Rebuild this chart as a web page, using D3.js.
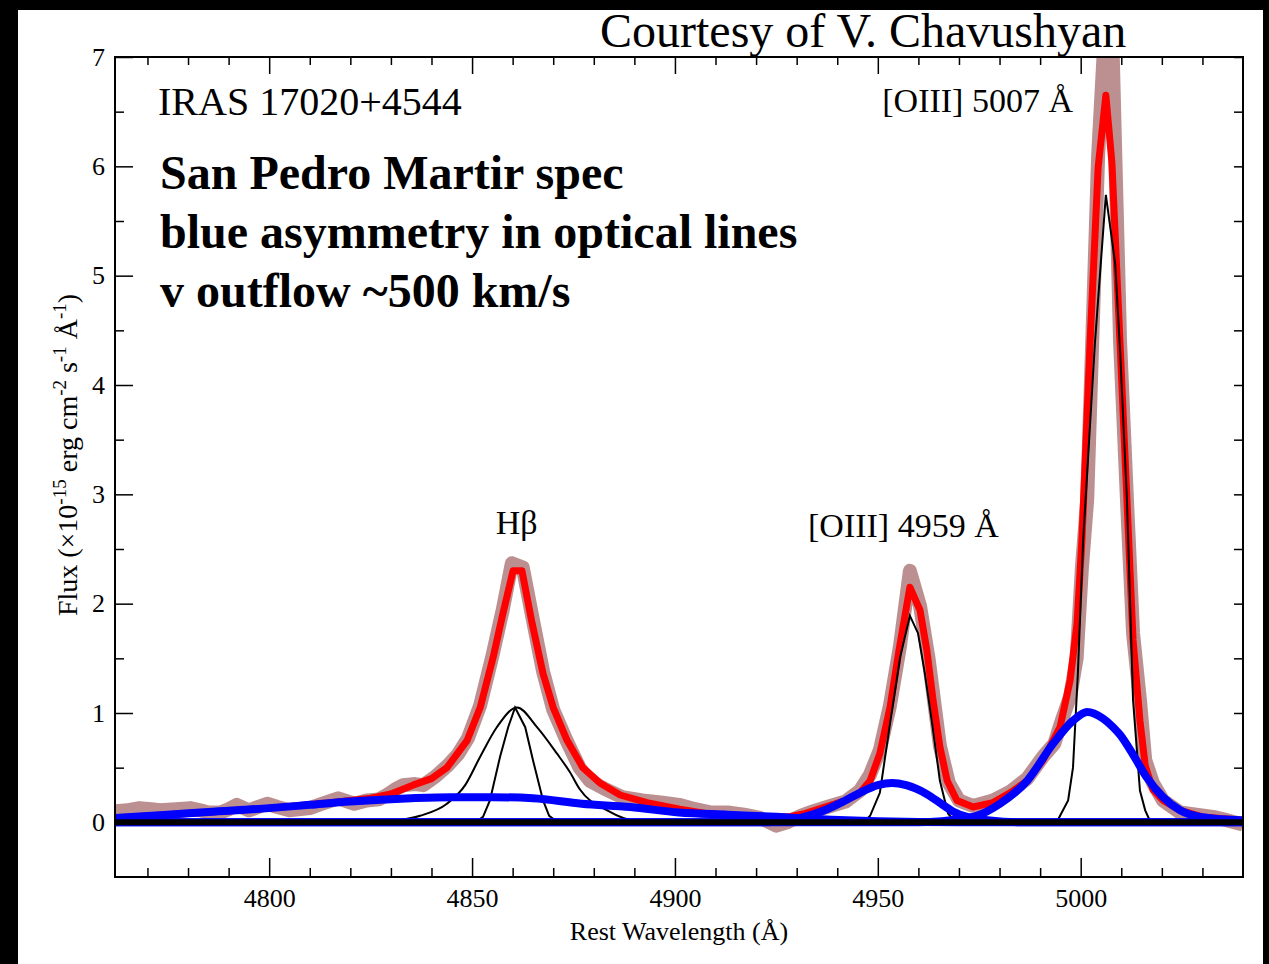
<!DOCTYPE html>
<html>
<head>
<meta charset="utf-8">
<script src="https://cdn.jsdelivr.net/npm/d3@7"></script>
<style>
body { margin: 0; background: #000; }
svg { display: block; }
text { font-family: "Liberation Serif", "Times New Roman", serif; fill: #000; }
</style>
</head>
<body>
<svg id="chart" width="1269" height="964"></svg>
<script>
// wavelength (A), flux (1e-15 erg cm-2 s-1 A-1)
var obsSpec = [[4762,0.10],[4765,0.11],[4768,0.13],[4771,0.12],[4773,0.11],[4777,0.12],[4780.5,0.13],[4783,0.11],[4785,0.09],[4788,0.09],[4790,0.12],[4792,0.16],[4795,0.11],[4799.5,0.17],[4802,0.14],[4805,0.11],[4810,0.13],[4813,0.17],[4817,0.22],[4821,0.17],[4824,0.20],[4827,0.21],[4829,0.25],[4831,0.30],[4833,0.34],[4836,0.35],[4838,0.34],[4841,0.42],[4844,0.52],[4846.5,0.62],[4849,0.77],[4852,1.07],[4855,1.52],[4857.6,1.95],[4859.8,2.37],[4862.5,2.33],[4865,1.85],[4867.5,1.38],[4870,1.03],[4873.4,0.74],[4876.5,0.50],[4879,0.38],[4882.5,0.31],[4887,0.23],[4892,0.20],[4897,0.18],[4901,0.16],[4905,0.12],[4909,0.09],[4913,0.09],[4917,0.07],[4921,0.04],[4925,-0.03],[4927.6,0.0],[4931,0.06],[4934,0.10],[4937.5,0.14],[4942,0.19],[4945.6,0.29],[4948,0.43],[4950.5,0.66],[4953,1.07],[4955.5,1.62],[4957.9,2.30],[4960.4,1.98],[4962.5,1.50],[4965.3,0.70],[4967.5,0.36],[4970,0.20],[4973.5,0.15],[4978.4,0.20],[4982.6,0.28],[4986.8,0.40],[4990.7,0.60],[4993.5,0.72],[4995.5,0.95],[4997.4,1.15],[4999,1.50],[5000.3,2.33],[5001.6,2.95],[5004.3,6.1],[5006.2,7.4],[5007.7,7.3],[5009.7,4.4],[5011.4,2.95],[5012.9,1.73],[5014.6,1.12],[5015.9,0.57],[5017.8,0.36],[5020.3,0.20],[5024.5,0.09],[5028.5,0.07],[5032.6,0.05],[5036,0.02],[5040,-0.02]];

var fitTotal = [[4762,0.04],[4780,0.08],[4800,0.13],[4815,0.18],[4825,0.22],[4830,0.26],[4835.4,0.34],[4840,0.40],[4843.8,0.50],[4848.8,0.75],[4852,1.05],[4855.2,1.51],[4857.6,1.91],[4860.1,2.30],[4862.3,2.30],[4864.8,1.82],[4867.5,1.36],[4870,1.05],[4873.4,0.75],[4877.3,0.50],[4881.5,0.36],[4886.5,0.25],[4893.1,0.18],[4901.2,0.12],[4908,0.08],[4915,0.06],[4922,0.05],[4928,0.05],[4932,0.08],[4937,0.14],[4942,0.20],[4945.6,0.27],[4948.1,0.38],[4950.5,0.63],[4953,1.05],[4955.2,1.57],[4957.9,2.15],[4960.4,1.94],[4962.1,1.57],[4963.6,1.12],[4965.3,0.69],[4967.1,0.38],[4969.5,0.20],[4973.5,0.14],[4978.4,0.18],[4982.6,0.27],[4986.8,0.38],[4990.7,0.57],[4994.9,0.87],[4997.4,1.30],[4999.1,1.82],[5000.3,2.58],[5002.3,4.38],[5004.3,5.99],[5006.2,6.65],[5007.7,6.03],[5009.7,4.38],[5011.4,2.95],[5012.9,1.67],[5014.6,0.93],[5015.9,0.52],[5017.8,0.30],[5020.3,0.20],[5024.5,0.11],[5030,0.05],[5040,0.02]];

var hbNarrow = [[4849,0],[4851.2,0.01],[4852.7,0.05],[4854.4,0.20],[4856.9,0.60],[4858.9,0.87],[4860.6,1.05],[4863.1,0.87],[4865,0.57],[4867.5,0.20],[4869,0.06],[4870.4,0.02],[4873,0]];
var hbBroad = [[4825,0],[4829.8,0.01],[4837.2,0.06],[4843.8,0.17],[4848.3,0.34],[4852,0.60],[4856.1,0.87],[4861.1,1.05],[4866,0.87],[4870.9,0.63],[4874.1,0.46],[4876.6,0.30],[4883.3,0.11],[4890.7,0.01],[4896,0]];
var o4959Narrow = [[4944,0],[4946.8,0.01],[4948.1,0.06],[4950.5,0.27],[4953,0.90],[4955.5,1.51],[4957.9,1.89],[4959.9,1.73],[4961.6,1.36],[4963.4,0.90],[4965.3,0.38],[4967.3,0.08],[4969,0.01],[4972,0]];
var o5007Narrow = [[4991,0],[4994.2,0.01],[4996.9,0.20],[4998.1,0.50],[4999.3,1.36],[5000.6,2.58],[5003.5,4.38],[5006.2,5.74],[5008.5,5.11],[5009.7,4.32],[5011.4,2.95],[5012.9,1.12],[5014.6,0.29],[5015.9,0.11],[5017.1,0.01],[5020,0]];

var hbBlue = [[4762,0.04],[4775,0.07],[4785,0.095],[4800,0.13],[4810,0.16],[4820,0.19],[4835,0.22],[4845,0.23],[4855,0.23],[4865,0.22],[4877,0.17],[4889,0.14],[4901,0.09],[4913,0.07],[4925,0.05],[4935,0.03],[4950,0.01],[4970,0],[5040,0]];
var o4959Blue = [[4762,0],[4920,0],[4927,0.01],[4931,0.04],[4937.5,0.12],[4942,0.20],[4945.6,0.27],[4950,0.34],[4953.5,0.36],[4957,0.34],[4962,0.26],[4966,0.16],[4968.5,0.10],[4972,0.05],[4977,0.02],[4985,0],[5040,0]];
var o5007Blue = [[4762,0],[4960,0],[4968,0.02],[4974.4,0.06],[4980.1,0.17],[4986.8,0.38],[4993.2,0.72],[4998.1,0.93],[5001.6,1.01],[5005.5,0.95],[5008,0.87],[5009.7,0.80],[5012.9,0.62],[5016.3,0.41],[5020.3,0.23],[5024.5,0.11],[5029.4,0.05],[5039.3,0.02],[5040,0.02]];
var zeroLevel = [[4762,0],[5040,0]];

var xMajorTicks = [4800, 4850, 4900, 4950, 5000];
var xMinorTicks = [4770,4780,4790,4810,4820,4830,4840,4860,4870,4880,4890,4910,4920,4930,4940,4960,4970,4980,4990,5010,5020,5030];
var yMajorTicks = [0, 1, 2, 3, 4, 5, 6, 7];
var yMinorTicks = [0.5, 1.5, 2.5, 3.5, 4.5, 5.5, 6.5];

var svg = d3.select('#chart');
var plotL = 115, plotR = 1243, plotT = 57, plotB = 877;

var x = d3.scaleLinear().domain([4762, 5040]).range([plotL, plotR]);
var y = d3.scaleLinear().domain([-0.5, 7]).range([plotB, plotT]);

svg.append('rect').attr('x', 18).attr('y', 10).attr('width', 1245).attr('height', 954).attr('fill', '#fff');

svg.append('clipPath').attr('id', 'plotclip')
	.append('rect').attr('x', plotL).attr('y', plotT).attr('width', plotR-plotL).attr('height', plotB-plotT);

var plot = svg.append('g').attr('clip-path', 'url(#plotclip)');

function line(curve){
	return d3.line().x(function(d){ return x(d[0]); }).y(function(d){ return y(d[1]); }).curve(curve);
}

plot.append('path').datum(obsSpec).attr('d', line(d3.curveLinear))
	.attr('fill', 'none').attr('stroke', '#bc9090').attr('stroke-width', 14).attr('stroke-linejoin', 'round');
plot.append('path').datum(fitTotal).attr('d', line(d3.curveLinear))
	.attr('fill', 'none').attr('stroke', '#ff0000').attr('stroke-width', 7).attr('stroke-linejoin', 'round');

var blackComps = [[hbBroad, d3.curveMonotoneX], [hbNarrow, d3.curveLinear], [o4959Narrow, d3.curveLinear], [o5007Narrow, d3.curveLinear]];
blackComps.forEach(function(c){
	plot.append('path').datum(c[0]).attr('d', line(c[1]))
		.attr('fill', 'none').attr('stroke', '#000').attr('stroke-width', 2);
});

[hbBlue, o4959Blue, o5007Blue].forEach(function(c){
	plot.append('path').datum(c).attr('d', line(d3.curveMonotoneX))
		.attr('fill', 'none').attr('stroke', '#0000ff').attr('stroke-width', 8).attr('stroke-linejoin', 'round');
});

plot.append('path').datum(zeroLevel).attr('d', line(d3.curveLinear))
	.attr('fill', 'none').attr('stroke', '#000').attr('stroke-width', 6);

// axes, ticks pointing inward
svg.append('g').attr('transform', 'translate(0,' + plotB + ')')
	.call(d3.axisBottom(x).tickValues(xMajorTicks).tickSize(-19).tickPadding(12).tickFormat(d3.format('d')));
svg.append('g').attr('transform', 'translate(0,' + plotB + ')')
	.call(d3.axisBottom(x).tickValues(xMinorTicks).tickSize(-9).tickFormat(''));
svg.append('g').attr('transform', 'translate(0,' + plotT + ')')
	.call(d3.axisTop(x).tickValues(xMajorTicks).tickSize(-17).tickFormat(''));
svg.append('g').attr('transform', 'translate(0,' + plotT + ')')
	.call(d3.axisTop(x).tickValues(xMinorTicks).tickSize(-8).tickFormat(''));
svg.append('g').attr('transform', 'translate(' + plotL + ',0)')
	.call(d3.axisLeft(y).tickValues(yMajorTicks).tickSize(-18).tickPadding(10).tickFormat(d3.format('d')));
svg.append('g').attr('transform', 'translate(' + plotL + ',0)')
	.call(d3.axisLeft(y).tickValues(yMinorTicks).tickSize(-9).tickFormat(''));
svg.append('g').attr('transform', 'translate(' + plotR + ',0)')
	.call(d3.axisRight(y).tickValues(yMajorTicks.concat(yMinorTicks)).tickSize(-9).tickFormat(''));

svg.selectAll('.domain').remove();
svg.selectAll('.tick line').attr('stroke', '#000').attr('stroke-width', 1.5);
svg.selectAll('.tick text').attr('font-size', 26).attr('font-family', '"Liberation Serif", serif').attr('fill', '#000');

svg.append('rect').attr('x', plotL).attr('y', plotT).attr('width', plotR-plotL).attr('height', plotB-plotT)
	.attr('fill', 'none').attr('stroke', '#000').attr('stroke-width', 2);

// titles
svg.append('text').attr('x', (plotL+plotR)/2).attr('y', 940).attr('text-anchor', 'middle')
	.attr('font-size', 26).text('Rest Wavelength (Å)');

var yt = svg.append('text').attr('transform', 'translate(77,455) rotate(-90)')
	.attr('text-anchor', 'middle').attr('font-size', 28);
var ytParts = [['Flux (×10', 0], ['-15', 1], [' erg cm', 0], ['-2', 1], [' s', 0], ['-1', 1], [' Å', 0], ['-1', 1], [')', 0]];
var prevSup = 0;
ytParts.forEach(function(p){
	yt.append('tspan').attr('dy', p[1] ? -11 : (prevSup ? 11 : 0))
		.attr('font-size', p[1] ? 19 : 28).text(p[0]);
	prevSup = p[1];
});

svg.append('text').attr('x', 600).attr('y', 47).attr('font-size', 48).text('Courtesy of V. Chavushyan');
svg.append('text').attr('x', 158).attr('y', 115).attr('font-size', 40).text('IRAS 17020+4544');

var notes = ['San Pedro Martir spec', 'blue asymmetry in optical lines', 'v outflow ~500 km/s'];
svg.selectAll('.note').data(notes).enter().append('text')
	.attr('class', 'note')
	.attr('x', 160).attr('y', function(d, i){ return 189 + i*59; })
	.attr('font-size', 48).attr('font-weight', 'bold')
	.text(function(d){ return d; });

var lineLabels = [['Hβ', 4861, 2.64], ['[OIII] 4959 Å', 4956.3, 2.61], ['[OIII] 5007 Å', 4974.6, 6.5]];
svg.selectAll('.lbl').data(lineLabels).enter().append('text')
	.attr('class', 'lbl')
	.attr('x', function(d){ return x(d[1]); }).attr('y', function(d){ return y(d[2]); })
	.attr('text-anchor', 'middle').attr('font-size', 34)
	.text(function(d){ return d[0]; });
</script>
</body>
</html>
